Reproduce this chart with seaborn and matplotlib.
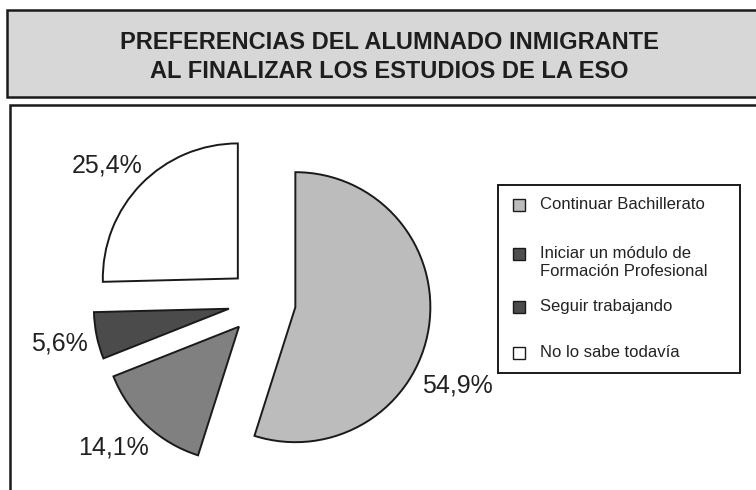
import matplotlib
matplotlib.use("Agg")
import matplotlib.pyplot as plt
from matplotlib.patches import Rectangle
import seaborn as sns

# data
categorias = ["Continuar Bachillerato",
              "Iniciar un módulo de\nFormación Profesional",
              "Seguir trabajando",
              "No lo sabe todavía"]
porcentajes = [54.9, 14.1, 5.6, 25.4]
colores = ["#bcbcbc", "#808080", "#4b4b4b", "#ffffff"]
colores_leyenda = ["#bcbcbc", "#4f4f4f", "#4b4b4b", "#ffffff"]
titulo = "PREFERENCIAS DEL ALUMNADO INMIGRANTE\nAL FINALIZAR LOS ESTUDIOS DE LA ESO"

W, H = 756, 490
EXPLODE = 0.25


def fx(px):
    return px / W


def fy(py):
    return 1 - py / H


sns.set_style("white")
plt.rcParams['font.family'] = ['Liberation Sans', 'DejaVu Sans']

fig = plt.figure(figsize=(W / 100, H / 100), dpi=100)
fig.patch.set_facecolor("white")

# title box
fig.patches.append(Rectangle((fx(7), fy(97)), fx(760) - fx(7), fy(10) - fy(97),
                             transform=fig.transFigure, facecolor="#d7d7d7",
                             edgecolor="#1a1a1a", linewidth=1.8, zorder=0))
fig.text(fx(389), fy(57), titulo, ha="center", va="center", fontsize=17,
         fontweight="bold", linespacing=1.3, color="#1e1e1e")

# chart box
fig.patches.append(Rectangle((fx(10), fy(495)), fx(760) - fx(10), fy(105) - fy(495),
                             transform=fig.transFigure, facecolor="none",
                             edgecolor="#1a1a1a", linewidth=1.8, zorder=0))

# pie axes: centre at (262, 302) px, radius 135 px
S = 180
R = 135
ax = fig.add_axes([fx(262 - S), fy(302 + S), 2 * S / W, 2 * S / H])
etiquetas = [f"{v:.1f}".replace(".", ",") + "%" for v in porcentajes]
wedges, textos = ax.pie(porcentajes, colors=colores, startangle=90, counterclock=False,
                        explode=[EXPLODE] * len(porcentajes), labels=etiquetas,
                        labeldistance=1.28,
                        wedgeprops=dict(edgecolor="#1a1a1a", linewidth=1.4),
                        textprops=dict(fontsize=18, color="#222222"))
ax.set_xlim(-S / R, S / R)
ax.set_ylim(-S / R, S / R)
ax.set_aspect("equal", adjustable="box")
ax.axis("off")
for t in textos:
    t.set_ha("center")
    t.set_va("center")
# label spots as in the original (centre-relative, in radii)
textos[0].set_position(((457 - 262) / R, (302 - 385) / R))
textos[1].set_position(((113 - 262) / R, (302 - 447) / R))
textos[3].set_position(((107 - 262) / R, (302 - 165) / R))

# legend box
fig.patches.append(Rectangle((fx(498), fy(373)), fx(740) - fx(498), fy(185) - fy(373),
                             transform=fig.transFigure, facecolor="white",
                             edgecolor="#1a1a1a", linewidth=1.4, zorder=1))
filas = [205, 254, 307, 353]
for lab, col, y in zip(categorias, colores_leyenda, filas):
    fig.patches.append(Rectangle((fx(513), fy(y + 6)), fx(12), 12 / H,
                                 transform=fig.transFigure, facecolor=col,
                                 edgecolor="#1a1a1a", linewidth=1.0, zorder=2))
    fig.text(fx(540), fy(y - 8), lab, ha="left", va="top", fontsize=12,
             color="#222222", linespacing=1.25)

fig.savefig("out.png", dpi=100)
